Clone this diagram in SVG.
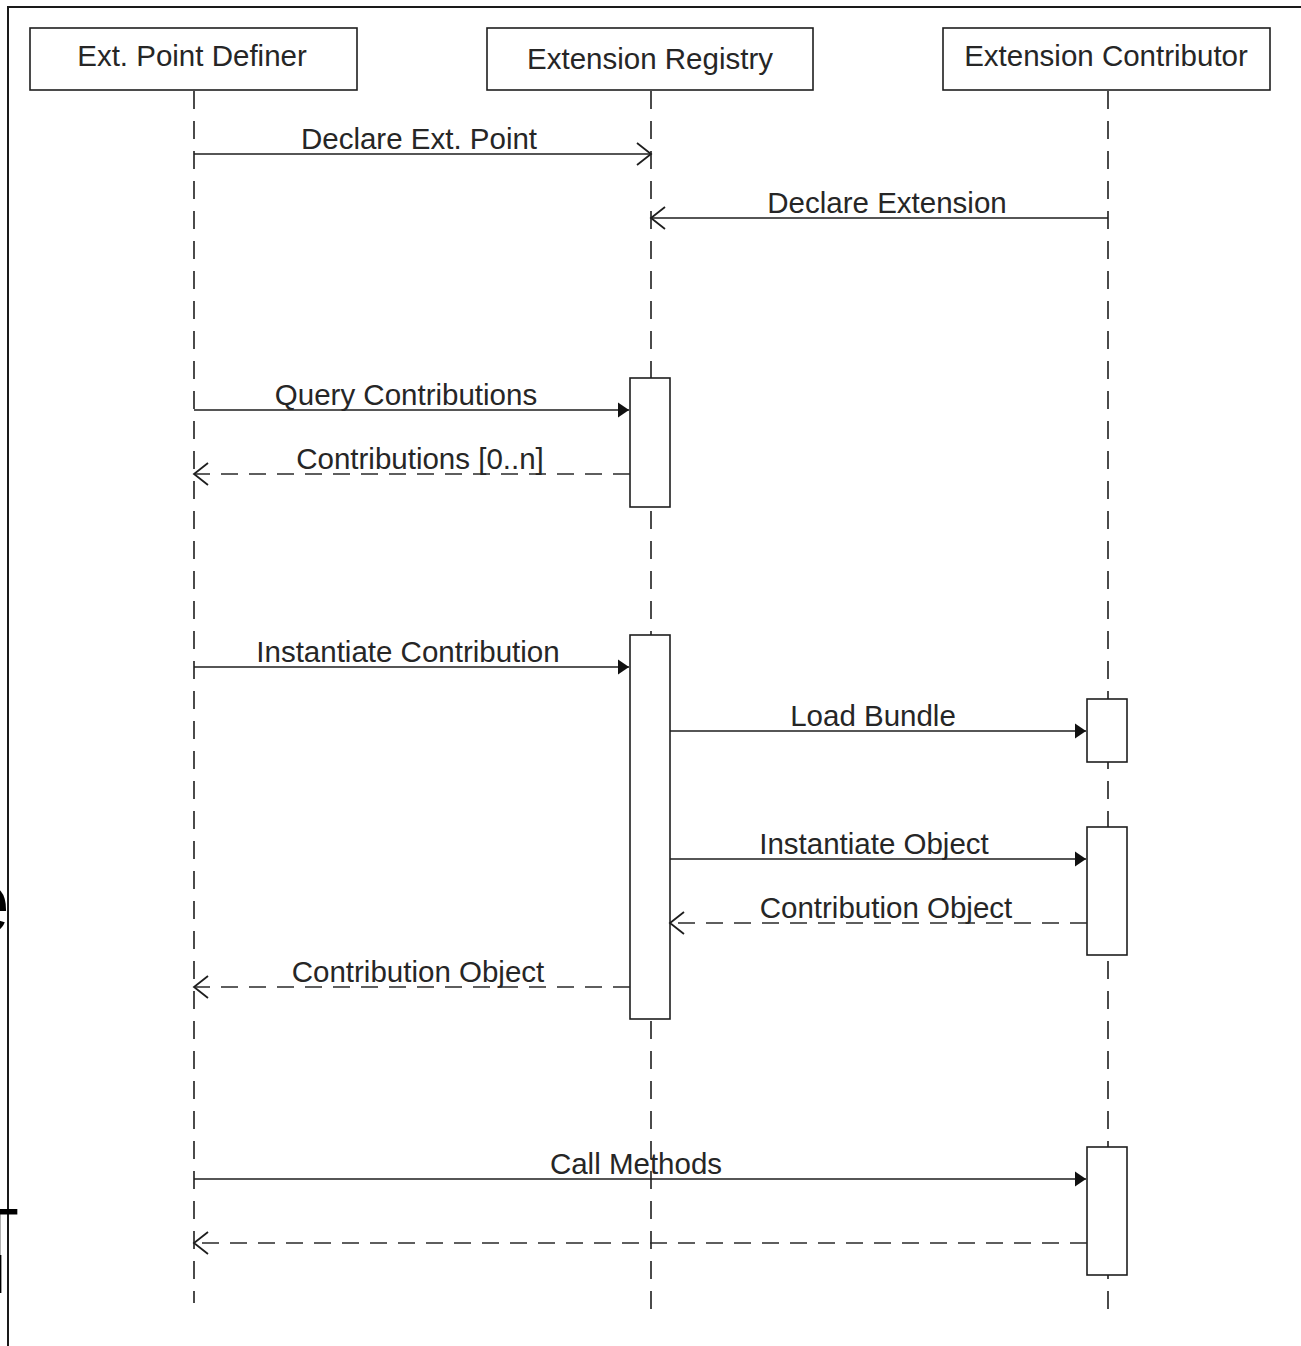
<svg xmlns="http://www.w3.org/2000/svg" width="1301" height="1346" viewBox="0 0 1301 1346">
  <style>
    .frame { stroke: #1a1a1a; stroke-width: 2; fill: none; }
    .box { fill: #ffffff; stroke: #1e1e1e; stroke-width: 1.6; }
    .act { fill: #ffffff; stroke: #1e1e1e; stroke-width: 1.6; }
    .life { stroke: #1e1e1e; stroke-width: 1.6; stroke-dasharray: 18 12; fill: none; }
    .msg { stroke: #1e1e1e; stroke-width: 1.6; fill: none; }
    .ret { stroke: #2a2a2a; stroke-width: 1.6; fill: none; stroke-dasharray: 17 11; }
    .lbl { font-family: "Liberation Sans", Arial, sans-serif; font-size: 29.5px; fill: #262626; text-anchor: middle; }
    .big { font-family: "Liberation Sans", Arial, sans-serif; fill: #000000; }
  </style>
  <defs>
    <marker id="open" markerUnits="userSpaceOnUse" markerWidth="20" markerHeight="26" refX="15" refY="12" orient="auto">
      <path d="M1,1 L15,12 L1,23" fill="none" stroke="#1e1e1e" stroke-width="1.8"/>
    </marker>
    <marker id="solid" markerUnits="userSpaceOnUse" markerWidth="14" markerHeight="18" refX="12" refY="8" orient="auto">
      <path d="M1,0.5 L12,8 L1,15.5 Z" fill="#111111"/>
    </marker>
  </defs>

  <rect width="1301" height="1346" fill="#ffffff"/>

  <!-- page border -->
  <path class="frame" d="M8,1346 V7 H1301"/>

  <!-- large text running off the left edge of the page -->
  <text class="big" x="-39" y="932" font-size="88">e</text>
  <text class="big" x="-25" y="1259" font-size="72">T</text>
  <text class="big" x="-9" y="1293" font-size="56">I</text>

  <!-- lifelines -->
  <g id="lifelines">
    <line class="life" x1="194" y1="91" x2="194" y2="1303"/>
    <line class="life" x1="651" y1="91" x2="651" y2="1310"/>
    <line class="life" x1="1108" y1="91" x2="1108" y2="1310"/>
  </g>

  <!-- participants -->
  <g id="definer">
    <rect class="box" x="30" y="28" width="327" height="62"/>
    <text class="lbl" x="192" y="66">Ext. Point Definer</text>
  </g>
  <g id="registry">
    <rect class="box" x="487" y="28" width="326" height="62"/>
    <text class="lbl" x="650" y="69">Extension Registry</text>
  </g>
  <g id="contributor">
    <rect class="box" x="943" y="28" width="327" height="62"/>
    <text class="lbl" x="1106" y="66">Extension Contributor</text>
  </g>

  <!-- activation bars -->
  <g id="registry-act-1"><rect class="act" x="630" y="378" width="40" height="129"/></g>
  <g id="registry-act-2"><rect class="act" x="630" y="635" width="40" height="384"/></g>
  <g id="contributor-act-1"><rect class="act" x="1087" y="699" width="40" height="63"/></g>
  <g id="contributor-act-2"><rect class="act" x="1087" y="827" width="40" height="128"/></g>
  <g id="contributor-act-3"><rect class="act" x="1087" y="1147" width="40" height="128"/></g>

  <!-- messages -->
  <g id="connectors">
    <line class="msg" x1="194" y1="154" x2="651" y2="154" marker-end="url(#open)"/>
    <text class="lbl" x="419" y="149">Declare Ext. Point</text>

    <line class="msg" x1="1108" y1="218" x2="651" y2="218" marker-end="url(#open)"/>
    <text class="lbl" x="887" y="213">Declare Extension</text>

    <line class="msg" x1="194" y1="410" x2="629" y2="410" marker-end="url(#solid)"/>
    <text class="lbl" x="406" y="405">Query Contributions</text>

    <line class="ret" x1="630" y1="474" x2="194" y2="474" marker-end="url(#open)"/>
    <text class="lbl" x="420" y="469">Contributions [0..n]</text>

    <line class="msg" x1="194" y1="667" x2="629" y2="667" marker-end="url(#solid)"/>
    <text class="lbl" x="408" y="662">Instantiate Contribution</text>

    <line class="msg" x1="670" y1="731" x2="1086" y2="731" marker-end="url(#solid)"/>
    <text class="lbl" x="873" y="726">Load Bundle</text>

    <line class="msg" x1="670" y1="859" x2="1086" y2="859" marker-end="url(#solid)"/>
    <text class="lbl" x="874" y="854">Instantiate Object</text>

    <line class="ret" x1="1087" y1="923" x2="670" y2="923" marker-end="url(#open)"/>
    <text class="lbl" x="886" y="918">Contribution Object</text>

    <line class="ret" x1="630" y1="987" x2="194" y2="987" marker-end="url(#open)"/>
    <text class="lbl" x="418" y="982">Contribution Object</text>

    <line class="msg" x1="194" y1="1179" x2="1086" y2="1179" marker-end="url(#solid)"/>
    <text class="lbl" x="636" y="1174">Call Methods</text>

    <line class="ret" x1="1087" y1="1243" x2="194" y2="1243" marker-end="url(#open)"/>
  </g>
</svg>
